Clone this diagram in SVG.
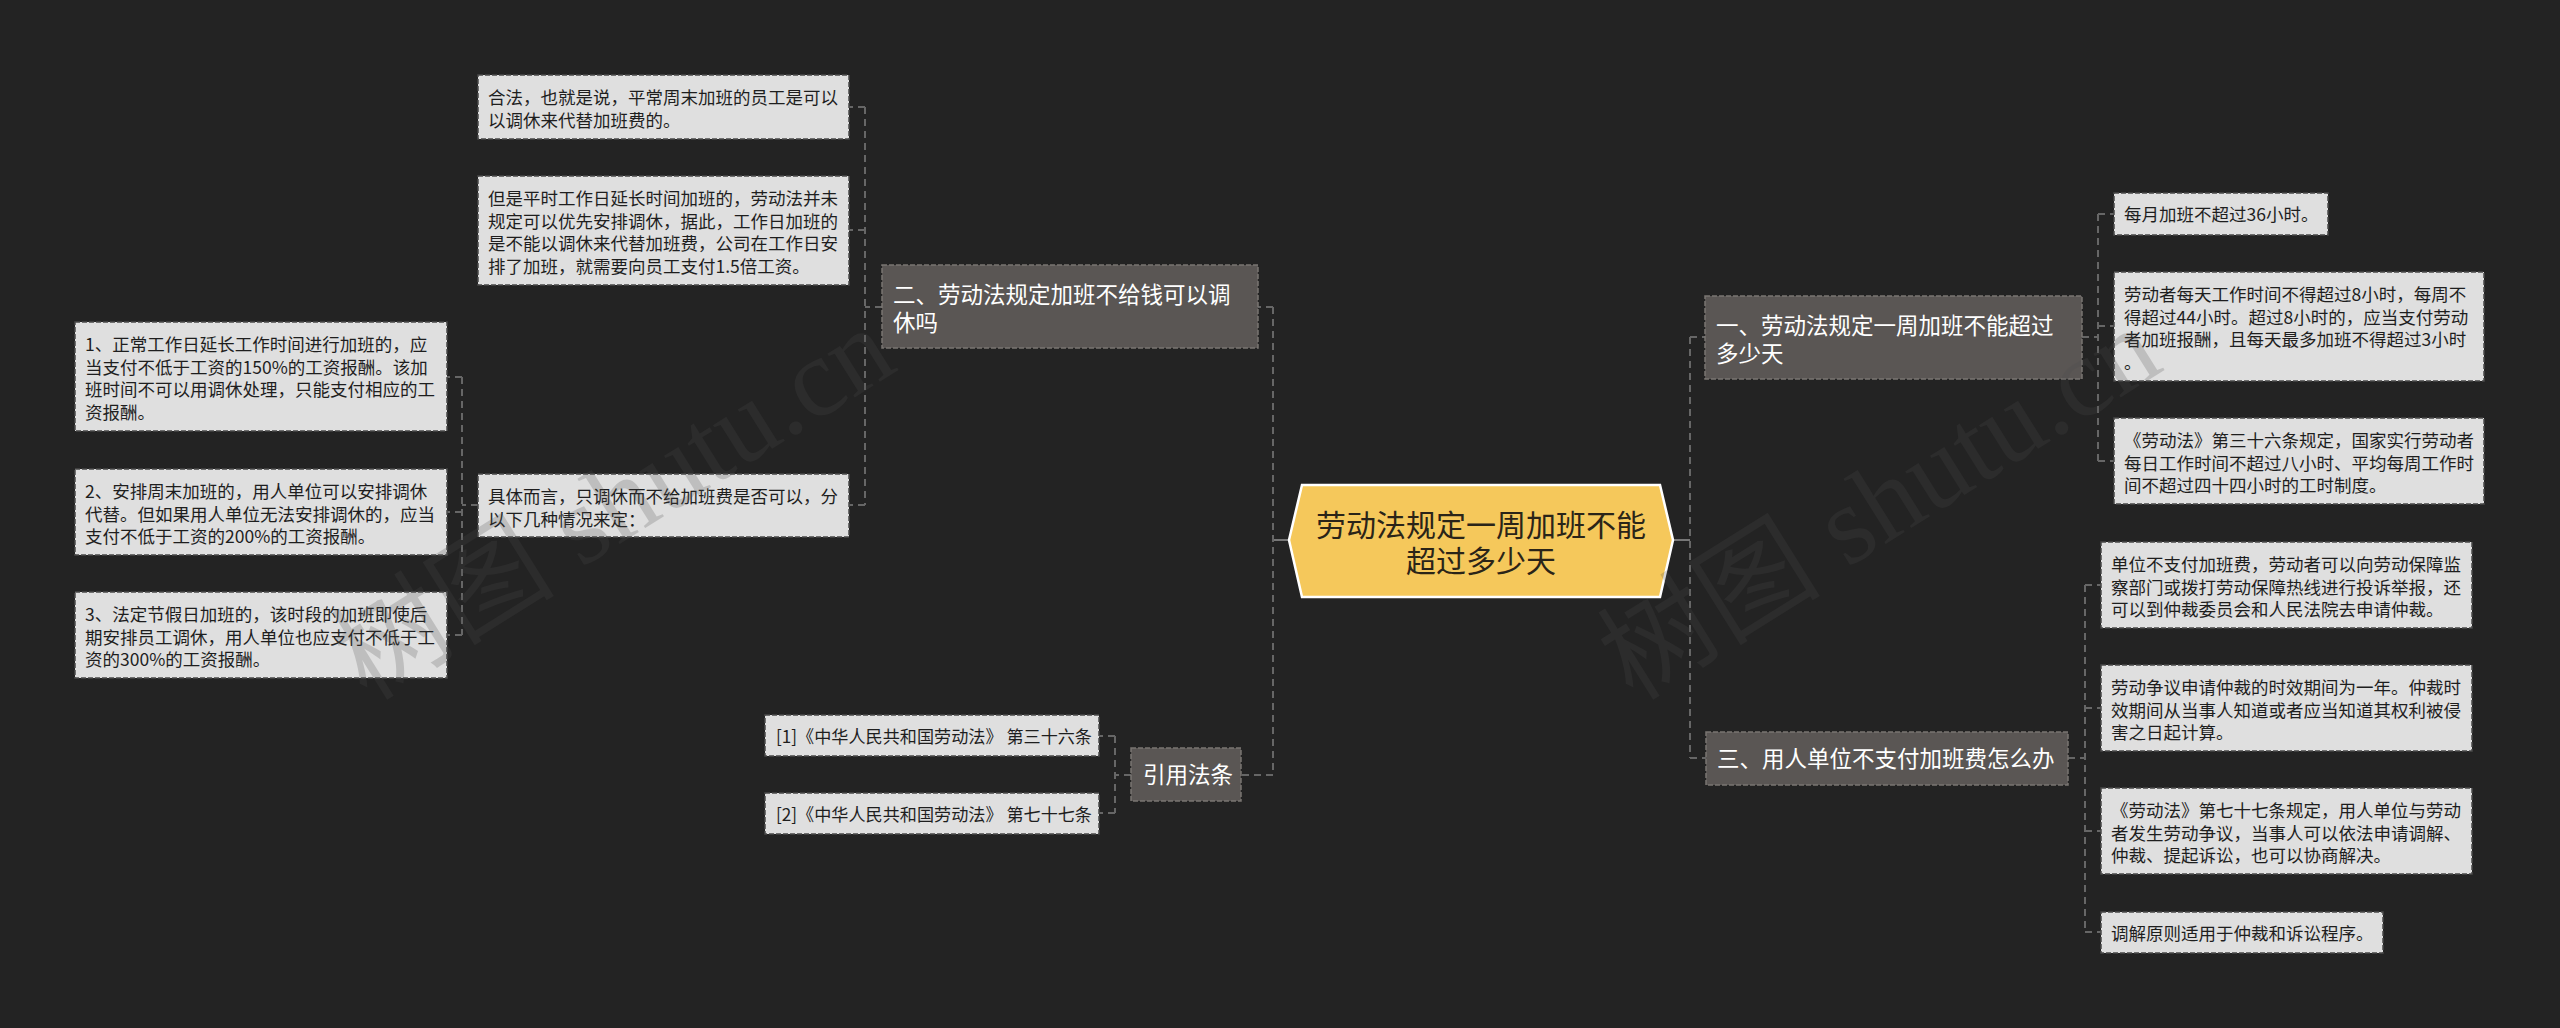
<svg xmlns="http://www.w3.org/2000/svg" width="2560" height="1028" viewBox="0 0 2560 1028">
<style>
.bg{fill:#232323}
.leaf rect{fill:#dfdfdf;stroke:#4a4a4a;stroke-width:1.5;stroke-dasharray:5 2}
.leaf text{font-family:"Noto Sans CJK SC","Liberation Sans",sans-serif;font-size:17.5px;fill:#1e1e1e}
.topic rect{fill:#5a5654;stroke:#7a7572;stroke-width:1.5;stroke-dasharray:5 2}
.topic text{font-family:"Noto Sans CJK SC","Liberation Sans",sans-serif;font-size:22.5px;fill:#ffffff}
.root polygon{fill:#f5c85b;stroke:#ffffff;stroke-width:2.5}
.root text{font-family:"Noto Sans CJK SC","Liberation Sans",sans-serif;font-size:30px;fill:#2a2418;text-anchor:middle}
#connectors path{fill:none;stroke:#666666;stroke-width:2;stroke-dasharray:7 5}
#connectors path.solid{stroke:#777777;stroke-dasharray:none}
.wm{font-family:"Liberation Serif","Noto Sans CJK SC",serif;font-size:112px;fill:#4c4c4c;opacity:0.22}
</style>
<rect class="bg" x="0" y="0" width="2560" height="1028"/>

<g id="connectors">
  <path class="solid" d="M1289 540 H1273"/>
  <path d="M1273 307 V775 M1273 307 H1258 M1273 775 H1241"/>
  <path class="solid" d="M1673 540 H1690"/>
  <path d="M1690 337 V758 M1690 337 H1705 M1690 758 H1706"/>
  <path d="M882 307 H865 M865 107 V505 M865 107 H849 M865 230 H849 M865 505 H849"/>
  <path d="M478 505 H462 M462 377 V635 M462 377 H447 M462 512 H447 M462 635 H447"/>
  <path d="M1131 775 H1115 M1115 736 V813 M1115 736 H1099 M1115 813 H1099"/>
  <path d="M2082 337 H2098 M2098 214 V461 M2098 214 H2114 M2098 326 H2114 M2098 461 H2114"/>
  <path d="M2068 758 H2085 M2085 585 V932 M2085 585 H2101 M2085 708 H2101 M2085 831 H2101 M2085 932 H2101"/>
</g>

<g id="root" class="root">
  <polygon points="1289,540 1302,485 1660,485 1673,540 1660,597 1302,597"/>
  <text x="1481" y="536">劳动法规定一周加班不能</text>
  <text x="1481" y="572">超过多少天</text>
</g>

<g id="topic-2" class="topic">
  <rect x="882" y="265" width="376" height="83"/>
  <text x="893" y="303">二、劳动法规定加班不给钱可以调</text>
  <text x="893" y="331">休吗</text>
</g>
<g id="topic-cite" class="topic">
  <rect x="1131" y="748" width="110" height="53"/>
  <text x="1143" y="783">引用法条</text>
</g>
<g id="topic-1" class="topic">
  <rect x="1705" y="296" width="377" height="83"/>
  <text x="1716" y="334">一、劳动法规定一周加班不能超过</text>
  <text x="1716" y="362">多少天</text>
</g>
<g id="topic-3" class="topic">
  <rect x="1706" y="732" width="362" height="53"/>
  <text x="1717" y="767">三、用人单位不支付加班费怎么办</text>
</g>

<g id="leaf-l1" class="leaf">
  <rect x="478" y="75" width="371" height="64"/>
  <text x="488" y="104">合法，也就是说，平常周末加班的员工是可以</text>
  <text x="488" y="126.5">以调休来代替加班费的。</text>
</g>
<g id="leaf-l2" class="leaf">
  <rect x="478" y="176" width="371" height="109"/>
  <text x="488" y="205">但是平时工作日延长时间加班的，劳动法并未</text>
  <text x="488" y="227.5">规定可以优先安排调休，据此，工作日加班的</text>
  <text x="488" y="250">是不能以调休来代替加班费，公司在工作日安</text>
  <text x="488" y="272.5">排了加班，就需要向员工支付1.5倍工资。</text>
</g>
<g id="leaf-l3" class="leaf">
  <rect x="478" y="474" width="371" height="63"/>
  <text x="488" y="503">具体而言，只调休而不给加班费是否可以，分</text>
  <text x="488" y="525.5">以下几种情况来定：</text>
</g>
<g id="leaf-l3a" class="leaf">
  <rect x="75" y="322" width="372" height="109"/>
  <text x="85" y="351">1、正常工作日延长工作时间进行加班的，应</text>
  <text x="85" y="373.5">当支付不低于工资的150%的工资报酬。该加</text>
  <text x="85" y="396">班时间不可以用调休处理，只能支付相应的工</text>
  <text x="85" y="418.5">资报酬。</text>
</g>
<g id="leaf-l3b" class="leaf">
  <rect x="75" y="469" width="372" height="86"/>
  <text x="85" y="498">2、安排周末加班的，用人单位可以安排调休</text>
  <text x="85" y="520.5">代替。但如果用人单位无法安排调休的，应当</text>
  <text x="85" y="543">支付不低于工资的200%的工资报酬。</text>
</g>
<g id="leaf-l3c" class="leaf">
  <rect x="75" y="592" width="372" height="86"/>
  <text x="85" y="621">3、法定节假日加班的，该时段的加班即使后</text>
  <text x="85" y="643.5">期安排员工调休，用人单位也应支付不低于工</text>
  <text x="85" y="666">资的300%的工资报酬。</text>
</g>
<g id="leaf-c1" class="leaf">
  <rect x="765" y="715" width="334" height="41"/>
  <text x="776" y="743" textLength="316" lengthAdjust="spacingAndGlyphs">[1]《中华人民共和国劳动法》 第三十六条</text>
</g>
<g id="leaf-c2" class="leaf">
  <rect x="765" y="793" width="334" height="41"/>
  <text x="776" y="821" textLength="316" lengthAdjust="spacingAndGlyphs">[2]《中华人民共和国劳动法》 第七十七条</text>
</g>

<g id="leaf-a1" class="leaf">
  <rect x="2114" y="193" width="214" height="42"/>
  <text x="2124" y="221">每月加班不超过36小时。</text>
</g>
<g id="leaf-a2" class="leaf">
  <rect x="2114" y="272" width="370" height="109"/>
  <text x="2124" y="301">劳动者每天工作时间不得超过8小时，每周不</text>
  <text x="2124" y="323.5">得超过44小时。超过8小时的，应当支付劳动</text>
  <text x="2124" y="346">者加班报酬，且每天最多加班不得超过3小时</text>
  <text x="2124" y="368.5">。</text>
</g>
<g id="leaf-a3" class="leaf">
  <rect x="2114" y="418" width="370" height="86"/>
  <text x="2124" y="447">《劳动法》第三十六条规定，国家实行劳动者</text>
  <text x="2124" y="469.5">每日工作时间不超过八小时、平均每周工作时</text>
  <text x="2124" y="492">间不超过四十四小时的工时制度。</text>
</g>
<g id="leaf-b1" class="leaf">
  <rect x="2101" y="542" width="371" height="86"/>
  <text x="2111" y="571">单位不支付加班费，劳动者可以向劳动保障监</text>
  <text x="2111" y="593.5">察部门或拨打劳动保障热线进行投诉举报，还</text>
  <text x="2111" y="616">可以到仲裁委员会和人民法院去申请仲裁。</text>
</g>
<g id="leaf-b2" class="leaf">
  <rect x="2101" y="665" width="371" height="86"/>
  <text x="2111" y="694">劳动争议申请仲裁的时效期间为一年。仲裁时</text>
  <text x="2111" y="716.5">效期间从当事人知道或者应当知道其权利被侵</text>
  <text x="2111" y="739">害之日起计算。</text>
</g>
<g id="leaf-b3" class="leaf">
  <rect x="2101" y="788" width="371" height="86"/>
  <text x="2111" y="817">《劳动法》第七十七条规定，用人单位与劳动</text>
  <text x="2111" y="839.5">者发生劳动争议，当事人可以依法申请调解、</text>
  <text x="2111" y="862">仲裁、提起诉讼，也可以协商解决。</text>
</g>
<g id="leaf-b4" class="leaf">
  <rect x="2101" y="912" width="282" height="41"/>
  <text x="2111" y="940">调解原则适用于仲裁和诉讼程序。</text>
</g>

<g id="watermark">
  <text class="wm" x="367" y="702" transform="rotate(-32 367 702)">树图 shutu.cn</text>
  <text class="wm" x="1633" y="702" transform="rotate(-32 1633 702)">树图 shutu.cn</text>
</g>
</svg>
